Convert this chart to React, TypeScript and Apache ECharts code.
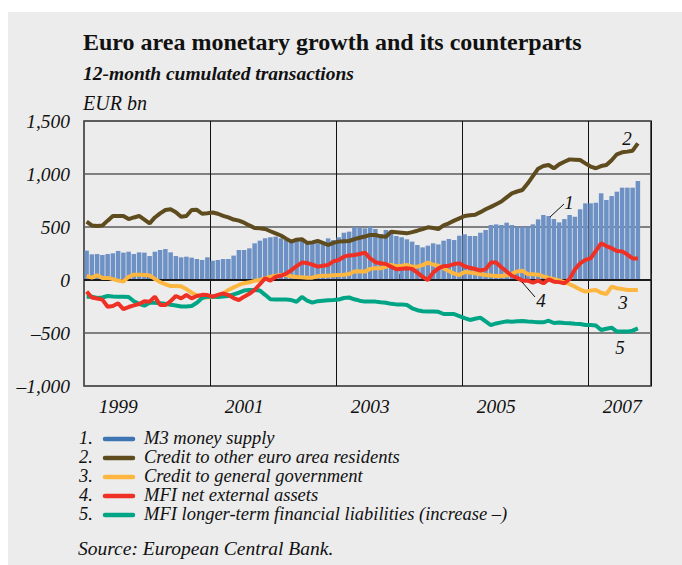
import React, { useEffect, useRef } from "react";
import * as echarts from "echarts";

// Months Jan 1999 – Dec 2007 (category axis)
const years = [1999, 2000, 2001, 2002, 2003, 2004, 2005, 2006, 2007];
const months: string[] = [];
years.forEach((y) => {
  for (let m = 1; m <= 12; m++) months.push(`${y}-${m < 10 ? "0" + m : m}`);
});

// 1. M3 money supply (EUR bn, 12-month cumulated transactions), Jan 1999 – Oct 2007
const m3 = [
  277, 242, 245, 236, 245, 252, 274, 258, 267, 245, 261, 258, 226, 267, 283, 292, 261, 226, 214, 220,
  211, 198, 189, 214, 182, 189, 198, 198, 230, 283, 283, 299, 346, 371, 393, 403, 409, 393, 377, 368,
  377, 368, 355, 346, 346, 352, 393, 377, 403, 446, 456, 497, 497, 487, 503, 481, 434, 472, 456, 415,
  403, 384, 362, 330, 308, 324, 346, 336, 371, 387, 377, 418, 431, 415, 415, 446, 472, 519, 525, 519,
  541, 519, 503, 503, 503, 525, 572, 613, 604, 575, 544, 575, 613, 597, 667, 723, 723, 729, 818, 755,
  792, 833, 871, 871, 871, 934,
];
// 2. Credit to other euro area residents
const creditOther = [
  550, 515, 510, 515, 560, 604, 604, 604, 575, 590, 604, 570, 535, 590, 629, 660, 667, 640, 597, 604,
  660, 662, 625, 630, 637, 625, 605, 590, 570, 560, 541, 515, 490, 487, 481, 460, 440, 420, 390, 362,
  380, 385, 350, 355, 368, 350, 330, 350, 362, 365, 368, 385, 399, 410, 425, 425, 412, 408, 455, 450,
  445, 440, 452, 465, 480, 497, 490, 481, 515, 535, 560, 582, 604, 610, 615, 640, 667, 690, 715, 740,
  780, 818, 835, 849, 910, 980, 1050, 1075, 1085, 1054, 1091, 1115, 1138, 1135, 1132, 1100, 1070, 1054, 1075, 1085,
  1130, 1186, 1205, 1211, 1220, 1289,
];
// 3. Credit to general government
const creditGov = [
  38, 22, 45, 18, 20, 8, -6, -14, 30, 50, 50, 47, 42, 10, -20, -40, -57, -57, -60, -85,
  -120, -145, -160, -165, -160, -150, -130, -94, -70, -47, -30, -22, -8, 0, 15, 31, 40, 47, 47, 35,
  28, 25, 22, 22, 35, 41, 41, 44, 47, 50, 57, 80, 82, 79, 105, 110, 110, 125, 142, 130,
  135, 142, 126, 126, 140, 164, 145, 135, 110, 85, 60, 47, 75, 70, 63, 55, 47, 42, 38, 38,
  45, 60, 80, 88, 55, 55, 50, 35, 20, 8, -5, -20, -40, -63, -90, -110, -100, -95, -120, -132,
  -63, -78, -85, -94, -94, -94,
];
// 4. MFI net external assets
const netExternal = [
  -110, -165, -175, -185, -252, -245, -220, -274, -255, -240, -226, -200, -204, -157, -236, -236, -200, -151, -173, -142,
  -173, -151, -140, -142, -157, -140, -126, -142, -170, -189, -157, -130, -94, -40, 16, -6, 30, 40, 60, 94,
  130, 164, 160, 145, 126, 135, 142, 175, 189, 220, 232, 236, 245, 258, 205, 168, 158, 151, 125, 101,
  106, 110, 105, 70, 30, 0, 70, 110, 130, 135, 150, 157, 130, 115, 104, 90, 100, 164, 164, 120,
  80, 40, 20, -6, -6, -25, -6, -31, 6, -16, -20, -31, 10, 100, 157, 190, 204, 275, 346, 320,
  300, 274, 270, 240, 204, 204,
];
// 5. MFI longer-term financial liabilities (increase –)
const longerTerm = [
  -157, -157, -170, -165, -151, -155, -157, -158, -160, -200, -225, -242, -214, -215, -220, -225, -233, -240, -250, -250,
  -245, -215, -170, -157, -155, -160, -155, -150, -135, -120, -100, -94, -94, -100, -140, -182, -185, -185, -185, -189,
  -205, -160, -195, -214, -200, -195, -192, -189, -185, -170, -165, -182, -195, -204, -204, -204, -210, -214, -225, -230,
  -230, -235, -267, -285, -295, -298, -298, -300, -321, -321, -321, -340, -360, -377, -365, -355, -390, -425, -410, -400,
  -390, -393, -390, -387, -392, -395, -399, -399, -384, -406, -400, -405, -408, -412, -415, -425, -425, -430, -472, -460,
  -450, -487, -485, -487, -478, -456,
];

const legendLabels = [
  "M3 money supply",
  "Credit to other euro area residents",
  "Credit to general government",
  "MFI net external assets",
  "MFI longer-term financial liabilities (increase \u2013)",
];
const legendColors = ["#3f74b2", "#5e4b1e", "#fdb741", "#ee3124", "#00a586"];
const barColor = "#6d91c4";

const FONT = '"Liberation Serif", "Times New Roman", serif';
const FS = 19.5;
const LFS = 18.5;

function fmt(v: number): string {
  const s = Math.abs(v).toLocaleString("en-US");
  return v < 0 ? "\u2013" + s : s;
}

export default function App() {
  const ref = useRef<HTMLDivElement>(null);
  useEffect(() => {
    if (!ref.current) return;
    const chart = echarts.init(ref.current, null, { renderer: "svg" });

    const graphic: any[] = [
      {
        type: "text",
        left: 75,
        top: 18,
        style: { text: "Euro area monetary growth and its counterparts", font: `bold 24px ${FONT}`, fill: "#111" },
      },
      {
        type: "text",
        left: 75,
        top: 51,
        style: { text: "12-month cumulated transactions", font: `italic bold ${FS}px ${FONT}`, fill: "#111" },
      },
      {
        type: "text",
        left: 75,
        top: 81,
        style: { text: "EUR bn", font: `italic 20px ${FONT}`, fill: "#111" },
      },
      {
        type: "text",
        left: 70,
        top: 526,
        style: { text: "Source: European Central Bank.", font: `italic ${FS}px ${FONT}`, fill: "#111" },
      },
    ];
    legendLabels.forEach((lab, i) => {
      const y = 426 + 19 * i;
      graphic.push({
        type: "text",
        x: 71,
        y,
        style: { text: `${i + 1}.`, font: `italic ${LFS}px ${FONT}`, fill: "#111", verticalAlign: "middle" },
      });
      graphic.push({
        type: "line",
        shape: { x1: 97, y1: y + 1, x2: 125, y2: y + 1 },
        style: { stroke: legendColors[i], lineWidth: 4.5, lineCap: "round" },
      });
      graphic.push({
        type: "text",
        x: 136,
        y,
        style: { text: lab, font: `italic ${LFS}px ${FONT}`, fill: "#111", verticalAlign: "middle" },
      });
    });
    // series annotations
    const ann = [
      { t: "1", x: 561, y: 190 },
      { t: "2", x: 619, y: 126 },
      { t: "3", x: 615, y: 290 },
      { t: "4", x: 533, y: 288 },
      { t: "5", x: 612, y: 335 },
    ];
    ann.forEach((a) =>
      graphic.push({
        type: "text",
        x: a.x,
        y: a.y,
        z: 100,
        style: { text: a.t, font: `italic 19px ${FONT}`, fill: "#111", align: "center", verticalAlign: "middle" },
      })
    );
    graphic.push({
      type: "line",
      z: 100,
      shape: { x1: 542, y1: 205, x2: 556, y2: 192 },
      style: { stroke: "#111", lineWidth: 1 },
    });
    graphic.push({
      type: "line",
      z: 100,
      shape: { x1: 514, y1: 270, x2: 527, y2: 285 },
      style: { stroke: "#111", lineWidth: 1 },
    });

    const lineSeries = (name: string, data: number[], color: string, z: number) => ({
      name,
      type: "line",
      data,
      symbol: "none",
      z,
      lineStyle: { color, width: 4 },
      itemStyle: { color },
    });

    chart.setOption({
      animation: false,
      backgroundColor: "#ececec",
      grid: {
        left: 76,
        top: 109,
        width: 567,
        height: 265,
        show: true,
        borderColor: "#2b2b2b",
        borderWidth: 1.5,
        backgroundColor: "transparent",
      },
      xAxis: {
        type: "category",
        data: months,
        boundaryGap: true,
        axisLine: { show: false },
        axisTick: {
          show: true,
          inside: true,
          length: 6,
          interval: (i: number) => i % 24 === 12,
          lineStyle: { color: "#222", width: 1 },
        },
        splitLine: {
          show: true,
          interval: (i: number) => i > 0 && i % 24 === 0,
          lineStyle: { color: "#111", width: 1 },
        },
        axisLabel: {
          interval: (i: number) => i % 24 === 6,
          formatter: (v: string) => v.slice(0, 4),
          fontFamily: FONT,
          fontStyle: "italic",
          fontSize: FS,
          color: "#111",
          margin: 10,
        },
      },
      yAxis: {
        type: "value",
        min: -1000,
        max: 1500,
        interval: 500,
        axisLine: { show: false },
        axisTick: { show: false },
        splitLine: { lineStyle: { color: "#5c5c5c", width: 1.5 } },
        axisLabel: {
          formatter: (v: number) => fmt(v),
          fontFamily: FONT,
          fontStyle: "italic",
          fontSize: FS,
          color: "#111",
          margin: 14,
        },
      },
      graphic,
      series: [
        {
          name: "M3 money supply",
          type: "bar",
          data: m3,
          barCategoryGap: "14%",
          itemStyle: { color: barColor },
          z: 2,
          markLine: {
            silent: true,
            symbol: "none",
            label: { show: false },
            lineStyle: { color: "#1a1a1a", width: 2, type: "solid" },
            data: [{ yAxis: 0 }],
          },
        },
        lineSeries("Credit to other euro area residents", creditOther, legendColors[1], 4),
        lineSeries("Credit to general government", creditGov, legendColors[2], 5),
        lineSeries("MFI longer-term financial liabilities", longerTerm, legendColors[4], 6),
        lineSeries("MFI net external assets", netExternal, legendColors[3], 7),
      ],
    });
    return () => chart.dispose();
  }, []);

  return (
    <div
      ref={ref}
      style={{ position: "fixed", left: 8, top: 12, width: 674, height: 553, background: "#ececec" }}
    />
  );
}
